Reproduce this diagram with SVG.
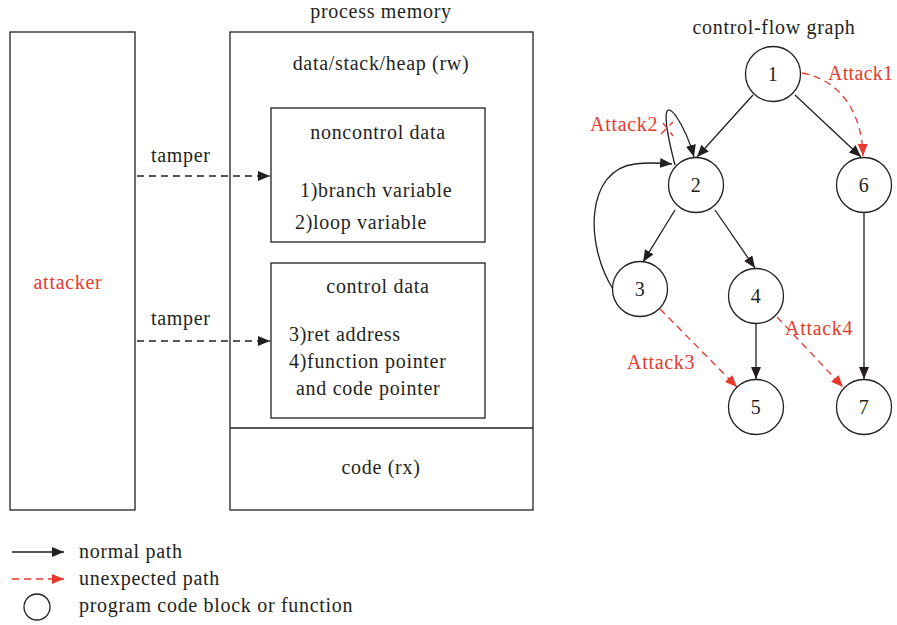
<svg xmlns="http://www.w3.org/2000/svg" width="897" height="625" viewBox="0 0 897 625">
  <style>
    text { font-family: "Liberation Serif", "DejaVu Serif", serif; font-size: 20px; letter-spacing: 0.7px; fill: #231f20; }
    .red { fill: #e8392e; }
    .mid { text-anchor: middle; }
    .box { fill: none; stroke: #231f20; stroke-width: 1.3; }
    .edge { fill: none; stroke: #231f20; stroke-width: 1.3; }
    .tamper { fill: none; stroke: #231f20; stroke-width: 1.3; stroke-dasharray: 7 5; }
    .attack { fill: none; stroke: #e8392e; stroke-width: 1.3; stroke-dasharray: 7 5; }
    .node circle { fill: #fff; stroke: #231f20; stroke-width: 1.3; }
  </style>
  <defs>
    <marker id="arrow" viewBox="0 0 12 10" refX="12" refY="5" markerWidth="12" markerHeight="10" markerUnits="userSpaceOnUse" orient="auto">
      <path d="M0,0 L12,5 L0,10 Z" fill="#231f20"/>
    </marker>
    <marker id="arrowRed" viewBox="0 0 12 10" refX="12" refY="5" markerWidth="12" markerHeight="10" markerUnits="userSpaceOnUse" orient="auto">
      <path d="M0,0 L12,5 L0,10 Z" fill="#e8392e"/>
    </marker>
  </defs>

  <!-- attacker -->
  <g id="attacker">
    <rect class="box" x="10" y="32" width="125" height="478"/>
    <text class="red mid" x="68" y="289">attacker</text>
  </g>

  <!-- process memory -->
  <g id="process-memory">
    <text class="mid" x="381" y="18">process memory</text>
    <rect class="box" x="230" y="32" width="303" height="478"/>
    <line class="box" x1="230" y1="428" x2="533" y2="428"/>
    <text class="mid" x="381" y="70">data/stack/heap (rw)</text>
    <text class="mid" x="381" y="474">code (rx)</text>
  </g>

  <g id="noncontrol-data">
    <rect class="box" x="271" y="108" width="214" height="134"/>
    <text class="mid" x="378" y="139">noncontrol data</text>
    <text x="300" y="197">1)branch variable</text>
    <text x="295" y="229">2)loop variable</text>
  </g>

  <g id="control-data">
    <rect class="box" x="271" y="263" width="214" height="155"/>
    <text class="mid" x="378" y="293">control data</text>
    <text x="289" y="341">3)ret address</text>
    <text x="289" y="368">4)function pointer</text>
    <text x="296" y="395">and code pointer</text>
  </g>

  <!-- tamper connectors -->
  <g id="tamper-connectors">
    <line class="tamper" x1="137" y1="176" x2="270" y2="176" marker-end="url(#arrow)"/>
    <text x="151" y="162">tamper</text>
    <line class="tamper" x1="137" y1="341" x2="270" y2="341" marker-end="url(#arrow)"/>
    <text x="151" y="325">tamper</text>
  </g>

  <!-- control-flow graph -->
  <text class="mid" x="774" y="34">control-flow graph</text>

  <g id="cfg-edges">
    <line class="edge" x1="753" y1="95" x2="697" y2="157" marker-end="url(#arrow)"/>
    <line class="edge" x1="795" y1="95" x2="861" y2="157" marker-end="url(#arrow)"/>
    <line class="edge" x1="675" y1="210" x2="643" y2="262" marker-end="url(#arrow)"/>
    <line class="edge" x1="715" y1="210" x2="755" y2="268" marker-end="url(#arrow)"/>
    <line class="edge" x1="756" y1="324" x2="756" y2="379" marker-end="url(#arrow)"/>
    <line class="edge" x1="864" y1="213" x2="864" y2="379" marker-end="url(#arrow)"/>
    <!-- self loop on 2 -->
    <path class="edge" d="M675,165 C662,115 664,100 676,116 C684,128 690,142 694,157" marker-end="url(#arrow)"/>
    <!-- back edge 3 -> 2 -->
    <path class="edge" d="M613,289 C585,245 585,170 635,164 C650,162 660,163 672,164" marker-end="url(#arrow)"/>
    <!-- unexpected paths -->
    <path class="attack" d="M802,73 C840,80 862,112 863,156" marker-end="url(#arrowRed)"/>
    <line class="attack" x1="660" y1="309" x2="737" y2="387" marker-end="url(#arrowRed)"/>
    <line class="attack" x1="777" y1="317" x2="843" y2="387" marker-end="url(#arrowRed)"/>
    <line class="attack" x1="661" y1="134" x2="673" y2="122" stroke-dasharray="4 3"/>
    <line class="attack" x1="663" y1="123" x2="673" y2="136" stroke-dasharray="4 3"/>
  </g>

  <g id="node-1" class="node"><circle cx="773" cy="74" r="27.5"/><text class="mid" x="773" y="81">1</text></g>
  <g id="node-2" class="node"><circle cx="696" cy="185" r="27.5"/><text class="mid" x="696" y="192">2</text></g>
  <g id="node-6" class="node"><circle cx="864" cy="185" r="27.5"/><text class="mid" x="864" y="192">6</text></g>
  <g id="node-3" class="node"><circle cx="640" cy="289" r="27.5"/><text class="mid" x="640" y="296">3</text></g>
  <g id="node-4" class="node"><circle cx="756" cy="296" r="27.5"/><text class="mid" x="756" y="303">4</text></g>
  <g id="node-5" class="node"><circle cx="756" cy="407" r="27.5"/><text class="mid" x="756" y="414">5</text></g>
  <g id="node-7" class="node"><circle cx="864" cy="407" r="27.5"/><text class="mid" x="864" y="414">7</text></g>

  <g id="attack-labels">
    <text class="red" x="828" y="80" style="letter-spacing:0.3px">Attack1</text>
    <text class="red" x="590" y="131">Attack2</text>
    <text class="red" x="627" y="369">Attack3</text>
    <text class="red" x="785" y="335">Attack4</text>
  </g>

  <!-- legend -->
  <g id="legend">
    <line class="edge" x1="12" y1="552" x2="64" y2="552" marker-end="url(#arrow)"/>
    <text x="79" y="558">normal path</text>
    <line class="attack" x1="12" y1="579" x2="64" y2="579" marker-end="url(#arrowRed)"/>
    <text x="79" y="585">unexpected path</text>
    <circle cx="37" cy="607" r="13" fill="none" stroke="#231f20" stroke-width="1.3"/>
    <text x="79" y="612">program code block or function</text>
  </g>
</svg>
